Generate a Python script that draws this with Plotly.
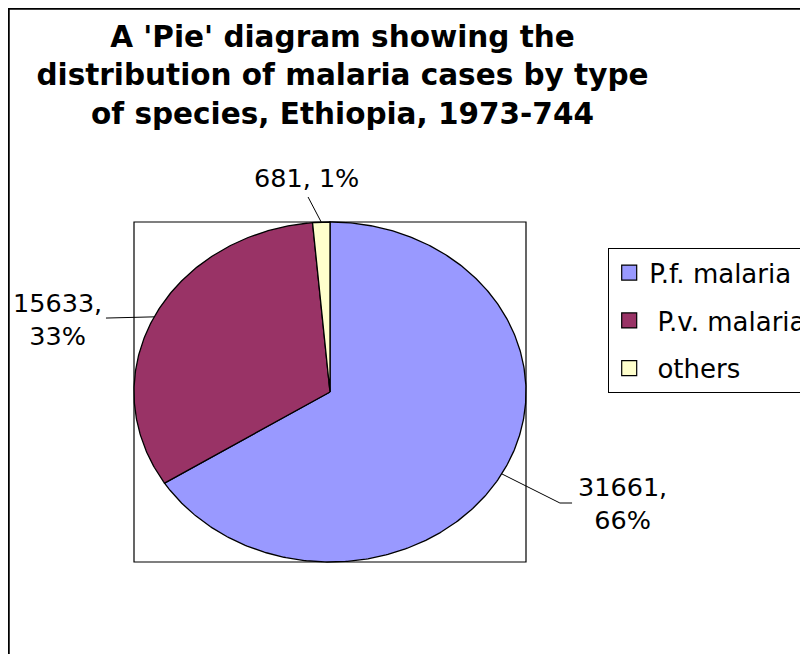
import numpy as np
import plotly.graph_objects as go

# ---- data ----
categories = ["P.f. malaria", "P.v. malaria", "others"]
legend_names = ["P.f. malaria", "\u00a0P.v. malaria", "\u00a0others"]
cases = [31661, 15633, 681]
colors = ["#9999FF", "#993366", "#FFFFCC"]
title_text = ("A 'Pie' diagram showing the<br>distribution of malaria cases by type"
              "<br>of species, Ethiopia, 1973-744")

# label anchor positions (layout, in axis units; ellipse has radius 1)
label_pos = [(1.49, -0.653), (-1.388, 0.429), (-0.122, 1.259)]
leader_end = [[(1.173, -0.653), (1.235, -0.653)], [(-1.143, 0.435)], [(-0.112, 1.147)]]

W, H = 808, 654
OFF = 8  # page (body) margin offset
FONT = "DejaVu Sans"

total = float(sum(cases))
cum = np.concatenate([[0.0], np.cumsum(cases) / total])

fig = go.Figure()

# slices (clockwise from 12 o'clock), drawn on an elliptical (unequal) x/y scale
for i, name in enumerate(categories):
    f0, f1 = cum[i], cum[i + 1]
    n = max(4, int(600 * (f1 - f0)))
    t = np.linspace(f0, f1, n) * 2 * np.pi
    xs = np.concatenate([[0.0], np.sin(t), [0.0]])
    ys = np.concatenate([[0.0], np.cos(t), [0.0]])
    fig.add_trace(go.Scatter(
        x=xs, y=ys, mode="lines", fill="toself", fillcolor=colors[i],
        line=dict(color="black", width=1.3), name=name, legendgroup=name,
        showlegend=False, hoverinfo="text",
        text=f"{name}: {cases[i]} ({cases[i] / total:.0%})", hoveron="fills"))

# legend entries (square swatches)
for i, name in enumerate(categories):
    fig.add_trace(go.Scatter(
        x=[None], y=[None], mode="markers", name=legend_names[i],
        legendgroup=name,
        marker=dict(symbol="square", size=15, color=colors[i],
                    line=dict(color="black", width=1.2)),
        showlegend=True))

# leader lines and labels
annotations = []
for i, name in enumerate(categories):
    mid = (cum[i] + cum[i + 1]) / 2 * 2 * np.pi
    pts = [(np.sin(mid), np.cos(mid))] + leader_end[i]
    fig.add_trace(go.Scatter(
        x=[p[0] for p in pts], y=[p[1] for p in pts], mode="lines",
        line=dict(color="black", width=1), showlegend=False, hoverinfo="skip"))
    pct = round(100 * cases[i] / total)
    txt = f"{cases[i]},<br>{pct}%" if i < 2 else f"{cases[i]}, {pct}%"
    annotations.append(dict(
        x=label_pos[i][0], y=label_pos[i][1], xref="x", yref="y", text=txt,
        showarrow=False, align="center", xanchor="center", yanchor="middle",
        font=dict(family=FONT, size=25.5, color="black")))

# plot-area (ellipse bounding box) pixel placement
px0, px1 = 134 - OFF, 526 - OFF
py_top, py_bot = 222 - OFF, 562 - OFF
sx = (px1 - px0) / 2.0
sy = (py_bot - py_top) / 2.0
xr = [-1 - px0 / sx, -1 + (W - px0) / sx]
yr = [-1 - (H - py_bot) / sy, -1 + py_bot / sy]

shapes = [
    dict(type="rect", xref="x", yref="y", x0=-1, x1=1, y0=-1, y1=1,
         line=dict(color="black", width=1.2), layer="below"),
    dict(type="path", xref="paper", yref="paper",
         path="M 0,-0.02 L 0,1 L 1.02,1",
         line=dict(color="black", width=3.5)),
]

fig.update_layout(
    width=W, height=H,
    margin=dict(l=0, r=0, t=0, b=0, autoexpand=False),
    paper_bgcolor="white", plot_bgcolor="white",
    title=dict(text=title_text, x=(342.5 - OFF) / W, y=1 - (47 - OFF) / H,
               xref="container", yref="container", xanchor="center",
               yanchor="middle",
               font=dict(family=FONT, size=29.5, color="black", weight="bold")),
    xaxis=dict(range=xr, visible=False, fixedrange=True),
    yaxis=dict(range=yr, visible=False, fixedrange=True),
    showlegend=True,
    legend=dict(x=(608 - OFF) / W, y=1 - (248 - OFF) / H, xanchor="left",
                yanchor="top", bgcolor="white", bordercolor="black",
                borderwidth=1.2,
                font=dict(family=FONT, size=26, color="black"),
                tracegroupgap=11, traceorder="grouped", itemclick=False,
                itemdoubleclick=False),
    shapes=shapes, annotations=annotations,
    font=dict(family=FONT),
)

fig.write_html("out.html")
